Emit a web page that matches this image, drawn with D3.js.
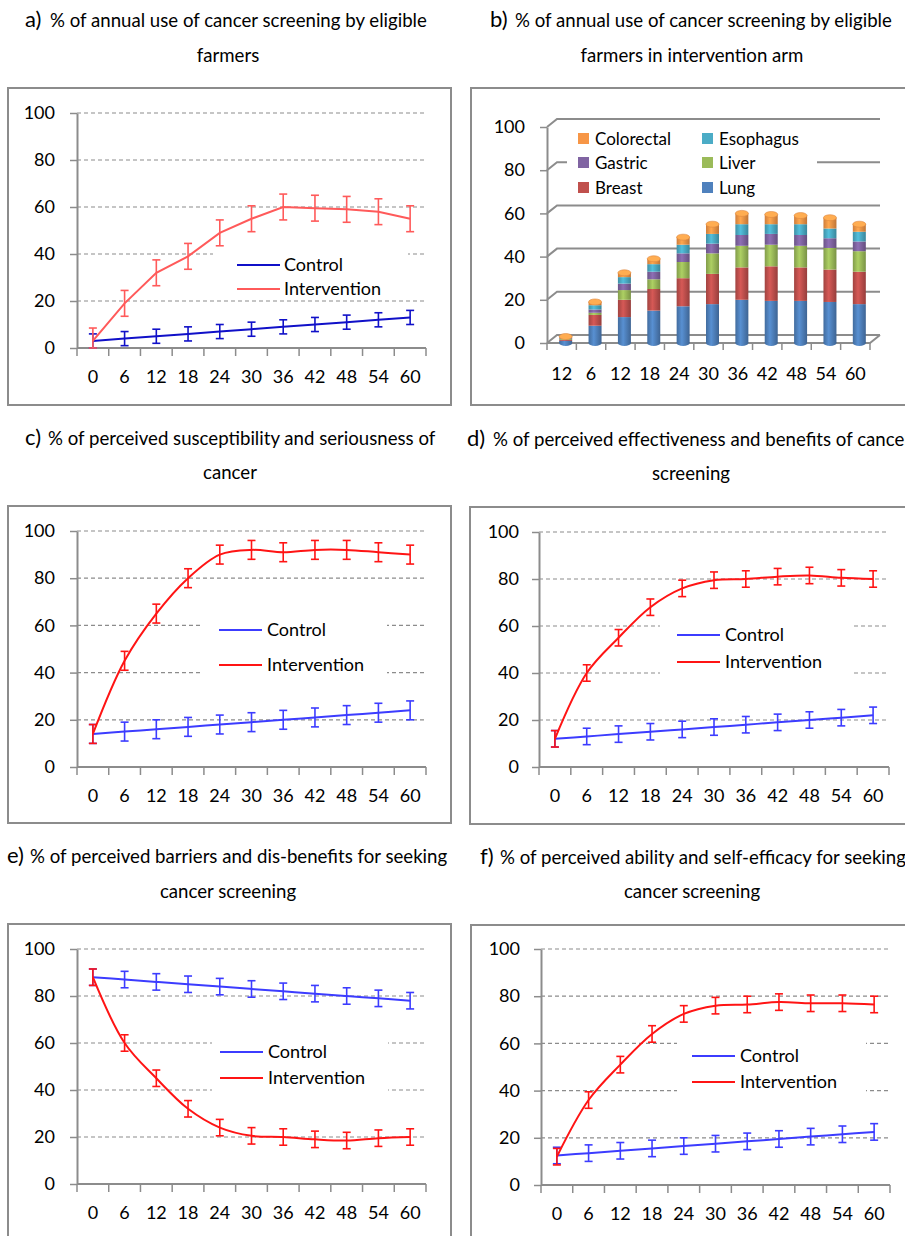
<!DOCTYPE html>
<html>
<head>
<meta charset="utf-8">
<style>
body { margin: 0; background: #fff; }
svg text { font-family: Lato, "Open Sans", sans-serif; fill: #000; }
</style>
</head>
<body>
<svg id="fig" width="905" height="1236"></svg>
<script src="https://cdn.jsdelivr.net/npm/d3@7"></script>
<script>
'use strict'

// months of follow-up
const months = ['0', '6', '12', '18', '24', '30', '36', '42', '48', '54', '60']
// panel b has "12" as first label in the original
const monthsB = ['12', '6', '12', '18', '24', '30', '36', '42', '48', '54', '60']

// a) annual use of screening
const controlA = [3, 4, 5, 6, 7, 8, 9, 10, 11, 12, 13]
const interventionA = [3, 19, 32, 39, 49, 55, 60, 59.5, 59, 58, 55]
const errA = [3, 5.5]

// c) susceptibility and seriousness
const controlC = [14, 15, 16, 17, 18, 19, 20, 21, 22, 23, 24]
const interventionC = [14, 45, 65, 80, 90, 92, 91, 92, 92, 91, 90]
const errC = [4, 4]

// d) effectiveness and benefits
const controlD = [12, 13, 14, 15, 16, 17, 18, 19, 20, 21, 22]
const interventionD = [12, 40, 55, 68, 76, 79.5, 80, 81, 81.5, 80.5, 80]
const errD = [3.5, 3.5]

// e) barriers and dis-benefits
const controlE = [88, 87, 86, 85, 84, 83, 82, 81, 80, 79, 78]
const interventionE = [88, 60, 45, 32, 24, 20.5, 20, 19, 18.5, 19.5, 20]
const errE = [3.5, 3.5]

// f) ability and self-efficacy
const controlF = [12.5, 13.5, 14.5, 15.5, 16.5, 17.5, 18.5, 19.5, 20.5, 21.5, 22.5]
const interventionF = [12, 36, 51, 64, 72.5, 76, 76.5, 77.5, 77, 77, 76.5]
const errF = [3.5, 3.5]

// b) stacked by cancer site, intervention arm
const sites = ['Lung', 'Breast', 'Liver', 'Gastric', 'Esophagus', 'Colorectal']
const lungB = [1, 8, 12, 15, 17, 18, 20, 19.5, 19.5, 19, 18]
const breastB = [0.5, 5, 8, 10, 13, 14, 15, 16, 15.5, 15, 15]
const liverB = [0.5, 1, 4.5, 4.5, 7.5, 9.5, 10, 10, 10, 10, 9.5]
const gastricB = [0.3, 1.5, 3, 3.5, 4, 4.5, 5, 5, 5, 4.5, 4.5]
const esophagusB = [0.2, 2, 3, 3.5, 4, 4.5, 5, 4.5, 5, 4.5, 4.5]
const colorectalB = [0.5, 1.5, 2, 2.5, 3.5, 4.5, 5, 4.5, 4, 5, 3.5]
const siteColors = ['#4f81bd', '#c0504d', '#9bbb59', '#8064a2', '#4bacc6', '#f79646']

const svg = d3.select('#fig')
const gray = '#8c8c8c'

// title font size fitted on panel a's first line
let probe = svg.append('text').style('font-size', '15px')
	.text('% of annual use of cancer screening by eligible')
const titleSize = 15 * 377 / probe.node().getComputedTextLength()
probe.remove()

function title(p) {
	let g = svg.append('g')
	g.append('text').attr('x', p.letterX).attr('y', p.y1)
		.style('font-size', '22px').text(p.letter)
	g.append('text').attr('x', p.textX).attr('y', p.y1)
		.style('font-size', titleSize + 'px').text(p.line1)
	g.append('text').attr('x', p.cx2).attr('y', p.y2).attr('text-anchor', 'middle')
		.style('font-size', titleSize + 'px').text(p.line2)
}

function frame(f) {
	svg.append('rect')
		.attr('x', f[0]).attr('y', f[1]).attr('width', f[2]).attr('height', f[3])
		.attr('fill', 'none').attr('stroke', gray).attr('stroke-width', 2)
}

function linePanel(p) {
	title(p)
	frame(p.frame)
	let g = svg.append('g')

	let x = d3.scaleBand().domain(months).range([p.x0, p.x1])
	let y = d3.scaleLinear().domain([0, 100]).range([p.yBot, p.yTop])

	// dashed gridlines
	g.append('g').selectAll('line')
		.data(y.ticks(5).slice(1))
		.join('line')
		.attr('x1', p.x0).attr('x2', p.x1)
		.attr('y1', d => y(d)).attr('y2', d => y(d))
		.attr('stroke', gray).attr('stroke-width', 1.2)
		.attr('stroke-dasharray', '4,3')

	// y axis
	let ya = g.append('g').attr('transform', 'translate(' + p.x0 + ',0)')
		.call(d3.axisLeft(y).ticks(5).tickSize(7).tickSizeOuter(0).tickPadding(p.yPad))
	ya.selectAll('line').attr('stroke', gray).attr('stroke-width', 1.5)
	ya.select('.domain').attr('stroke', gray).attr('stroke-width', 2)
	ya.selectAll('text').style('font-size', '18px').style('font-family', 'Lato')

	// x axis: labels centred in bands, ticks on band edges
	let xa = g.append('g').attr('transform', 'translate(0,' + p.yBot + ')')
		.call(d3.axisBottom(x).tickSize(0).tickPadding(22))
	xa.select('.domain').remove()
	xa.selectAll('text').style('font-size', '18px').style('font-family', 'Lato')
	g.append('line').attr('x1', p.x0).attr('x2', p.x1)
		.attr('y1', p.yBot).attr('y2', p.yBot)
		.attr('stroke', gray).attr('stroke-width', 2)
	let edges = months.map(m => x(m)).concat([p.x1])
	g.append('g').selectAll('line').data(edges).join('line')
		.attr('x1', d => d).attr('x2', d => d)
		.attr('y1', p.yBot).attr('y2', p.yBot + 8)
		.attr('stroke', gray).attr('stroke-width', 1.5)

	// legend background hides the gridlines
	g.append('rect').attr('x', p.legRect[0]).attr('y', p.legRect[1])
		.attr('width', p.legRect[2]).attr('height', p.legRect[3]).attr('fill', '#fff')

	let series = [
		{name: 'Control', values: p.control, err: p.err[0], color: p.colors[0]},
		{name: 'Intervention', values: p.intervention, err: p.err[1], color: p.colors[1]}
	]

	let line = d3.line()
		.x((d, i) => x(months[i]) + x.bandwidth() / 2)
		.y(d => y(d))
		.curve(p.smooth ? d3.curveCatmullRom : d3.curveLinear)

	series.forEach(function(s) {
		let sg = g.append('g')
		sg.append('path').datum(s.values)
			.attr('d', line).attr('fill', 'none')
			.attr('stroke', s.color).attr('stroke-width', 2)
		let lo = d => y(Math.max(0, d - s.err))
		let hi = d => y(d + s.err)
		let eb = sg.selectAll('.eb').data(s.values).join('g')
			.attr('transform', (d, i) => 'translate(' + (x(months[i]) + x.bandwidth() / 2) + ',0)')
		eb.append('line').attr('x1', 0).attr('x2', 0).attr('y1', lo).attr('y2', hi)
		eb.append('line').attr('x1', -4).attr('x2', 4).attr('y1', lo).attr('y2', lo)
		eb.append('line').attr('x1', -4).attr('x2', 4).attr('y1', hi).attr('y2', hi)
		eb.selectAll('line').attr('stroke', s.color).attr('stroke-width', 1.6)
	})

	// legend
	series.forEach(function(s, i) {
		let ly = p.legY[i]
		g.append('line').attr('x1', p.legX[0]).attr('x2', p.legX[1])
			.attr('y1', ly).attr('y2', ly)
			.attr('stroke', s.color).attr('stroke-width', 2)
		g.append('text').attr('x', p.legX[2]).attr('y', ly).attr('dy', '0.35em')
			.style('font-size', '18px').text(s.name)
	})
}

function barPanel(p) {
	title(p)
	frame(p.frame)
	let g = svg.append('g')
	let x = d3.scaleBand().domain(d3.range(monthsB.length)).range([p.x0, p.x1])
	let y = d3.scaleLinear().domain([0, 100]).range([p.yBot, p.yTop])
	let dx = 10, dy = -8

	// back wall gridlines with depth
	let ticks = y.ticks(5)
	g.append('g').selectAll('path').data(ticks).join('path')
		.attr('d', d => 'M' + p.x0 + ',' + y(d) + 'l' + dx + ',' + dy + 'H' + (p.x1 + dx))
		.attr('fill', 'none').attr('stroke', gray).attr('stroke-width', 2)
	// floor edges
	g.append('path')
		.attr('d', 'M' + p.x0 + ',' + y(0) + 'H' + p.x1 + 'l' + dx + ',' + dy)
		.attr('fill', 'none').attr('stroke', gray).attr('stroke-width', 2)

	let ya = g.append('g').attr('transform', 'translate(' + p.x0 + ',0)')
		.call(d3.axisLeft(y).ticks(5).tickSize(7).tickSizeOuter(0).tickPadding(p.yPad))
	ya.selectAll('line').attr('stroke', gray).attr('stroke-width', 1.5)
	ya.select('.domain').attr('stroke', gray).attr('stroke-width', 2)
	ya.selectAll('text').style('font-size', '18px').style('font-family', 'Lato')

	let xa = g.append('g').attr('transform', 'translate(0,' + p.yBot + ')')
		.call(d3.axisBottom(x).tickSize(0).tickPadding(24).tickFormat(i => monthsB[i]))
	xa.select('.domain').remove()
	xa.selectAll('text').style('font-size', '18px').style('font-family', 'Lato')
	let edges = x.domain().map(i => x(i)).concat([p.x1])
	g.append('g').selectAll('line').data(edges).join('line')
		.attr('x1', d => d).attr('x2', d => d)
		.attr('y1', p.yBot).attr('y2', p.yBot + 7)
		.attr('stroke', gray).attr('stroke-width', 1.5)

	// cylinder shading
	let defs = svg.append('defs')
	siteColors.forEach(function(c, k) {
		let lg = defs.append('linearGradient').attr('id', 'cyl' + k)
		lg.append('stop').attr('offset', '0%').attr('stop-color', d3.color(c).darker(0.5))
		lg.append('stop').attr('offset', '40%').attr('stop-color', d3.color(c).brighter(0.3))
		lg.append('stop').attr('offset', '100%').attr('stop-color', d3.color(c).darker(0.7))
	})

	let table = monthsB.map((m, i) => {
		let row = {i: i}
		p.stacks.forEach((arr, k) => { row[sites[k]] = arr[i] })
		return row
	})
	let stack = d3.stack().keys(sites)(table)
	let bw = 13, ry = 3
	let cx = i => x(i) + x.bandwidth() / 2 + 4

	stack.forEach(function(layer, k) {
		let lg = g.append('g')
		lg.selectAll('rect').data(layer).join('rect')
			.attr('x', (d, i) => cx(i) - bw / 2)
			.attr('y', d => y(d[1]))
			.attr('width', bw)
			.attr('height', d => Math.max(0, y(d[0]) - y(d[1])))
			.attr('fill', 'url(#cyl' + k + ')')
		if (k == 0) {
			lg.selectAll('ellipse').data(layer).join('ellipse')
				.attr('cx', (d, i) => cx(i)).attr('cy', d => y(d[0]))
				.attr('rx', bw / 2).attr('ry', ry)
				.attr('fill', 'url(#cyl0)')
		}
	})
	let top = stack[stack.length - 1]
	g.append('g').selectAll('ellipse').data(top).join('ellipse')
		.attr('cx', (d, i) => cx(i)).attr('cy', d => y(d[1]))
		.attr('rx', bw / 2).attr('ry', ry)
		.attr('fill', d3.color(siteColors[5]).brighter(0.4))
		.attr('stroke', d3.color(siteColors[5]).darker(0.3)).attr('stroke-width', 0.6)

	// legend, two columns
	let legRows = [['Colorectal', 'Esophagus'], ['Gastric', 'Liver'], ['Breast', 'Lung']]
	g.append('rect').attr('x', p.legRect[0]).attr('y', p.legRect[1])
		.attr('width', p.legRect[2]).attr('height', p.legRect[3]).attr('fill', '#fff')
	legRows.forEach(function(row, r) {
		row.forEach(function(name, c) {
			let lx = p.legX[c], ly = p.legY[r]
			g.append('rect').attr('x', lx).attr('y', ly - 6).attr('width', 11).attr('height', 11)
				.attr('fill', siteColors[sites.indexOf(name)])
			g.append('text').attr('x', lx + 17).attr('y', ly).attr('dy', '0.35em')
				.style('font-size', '17px').text(name)
		})
	})
}

const pal1 = ['#1010c8', '#ff5a5a']
const pal2 = ['#3c3cff', '#ff1414']

linePanel({
	letter: 'a)', line1: '% of annual use of cancer screening by eligible', line2: 'farmers',
	letterX: 25, textX: 50, y1: 27, cx2: 228, y2: 62,
	frame: [8, 88, 443, 317], x0: 77, x1: 426, yTop: 113, yBot: 348, yPad: 15,
	legRect: [213, 251, 195, 48], legX: [237, 280, 284], legY: [265, 289],
	control: controlA, intervention: interventionA, err: errA, colors: pal1, smooth: false
})

barPanel({
	letter: 'b)', line1: '% of annual use of cancer screening by eligible', line2: 'farmers in intervention arm',
	letterX: 490, textX: 515, y1: 27, cx2: 692, y2: 62,
	frame: [471, 88, 460, 317], x0: 547, x1: 870, yTop: 127, yBot: 343, yPad: 15,
	legRect: [567, 128, 250, 72], legX: [578, 702], legY: [139, 163, 188],
	stacks: [lungB, breastB, liverB, gastricB, esophagusB, colorectalB]
})

linePanel({
	letter: 'c)', line1: '% of perceived susceptibility and seriousness of', line2: 'cancer',
	letterX: 25, textX: 48, y1: 445, cx2: 230, y2: 479,
	frame: [8, 506, 443, 317], x0: 77, x1: 426, yTop: 531, yBot: 767, yPad: 15,
	legRect: [200, 605, 187, 85], legX: [219, 262, 267], legY: [630, 665],
	control: controlC, intervention: interventionC, err: errC, colors: pal2, smooth: true
})

linePanel({
	letter: 'd)', line1: '% of perceived effectiveness and benefits of cancer', line2: 'screening',
	letterX: 467, textX: 493, y1: 446, cx2: 691, y2: 480,
	frame: [470, 507, 460, 317], x0: 539, x1: 889, yTop: 532, yBot: 767, yPad: 13,
	legRect: [660, 610, 192, 80], legX: [677, 720, 725], legY: [635, 662],
	control: controlD, intervention: interventionD, err: errD, colors: pal2, smooth: true
})

linePanel({
	letter: 'e)', line1: '% of perceived barriers and dis-benefits for seeking', line2: 'cancer screening',
	letterX: 7, textX: 30, y1: 863, cx2: 228, y2: 898,
	frame: [8, 924, 443, 400], x0: 77, x1: 426, yTop: 949, yBot: 1184, yPad: 15,
	legRect: [212, 1030, 176, 70], legX: [220, 263, 268], legY: [1052, 1078],
	control: controlE, intervention: interventionE, err: errE, colors: pal2, smooth: true
})

linePanel({
	letter: 'f)', line1: '% of perceived ability and self-efficacy for seeking', line2: 'cancer screening',
	letterX: 480, textX: 500, y1: 864, cx2: 692, y2: 898,
	frame: [471, 925, 460, 400], x0: 541, x1: 890, yTop: 949, yBot: 1185, yPad: 14,
	legRect: [677, 1030, 189, 75], legX: [692, 735, 740], legY: [1056, 1082],
	control: controlF, intervention: interventionF, err: errF, colors: pal2, smooth: true
})
</script>
</body>
</html>
